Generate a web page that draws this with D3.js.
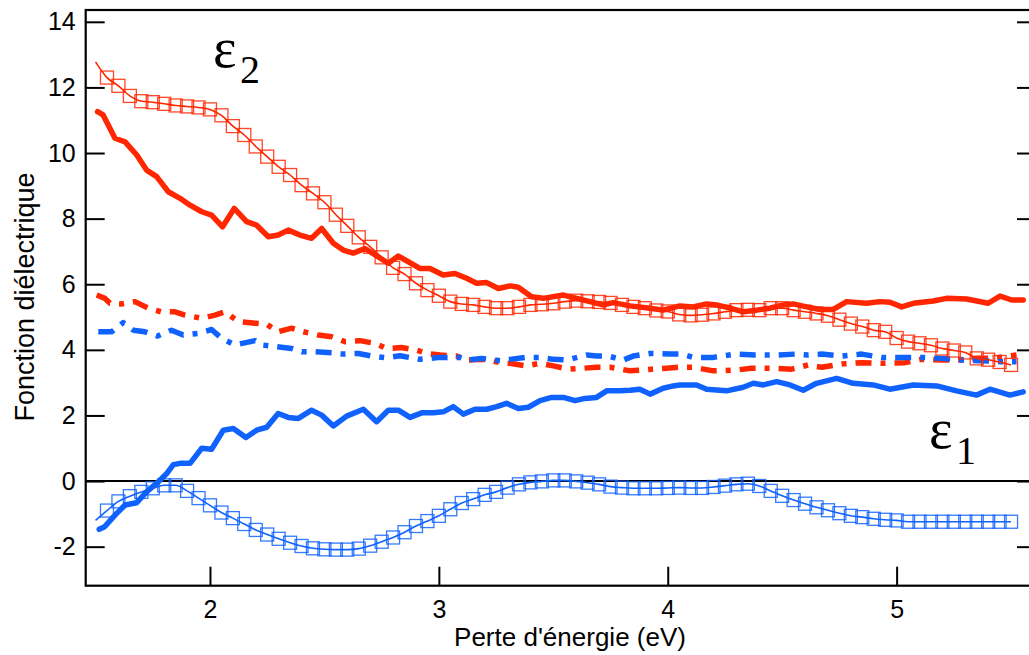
<!DOCTYPE html>
<html><head><meta charset="utf-8">
<script src="https://cdn.jsdelivr.net/npm/d3@7"></script>
<style>body{margin:0;background:#fff}svg{display:block}</style>
</head><body>
<svg id="chart" width="1029" height="655"></svg>
<script>
// ---- data ----
const xTicks = [2, 3, 4, 5];
const yTicks = [-2, 0, 2, 4, 6, 8, 10, 12, 14];
const xTitle = "Perte d'énergie (eV)";
const yTitle = "Fonction diélectrique";

// eps2 experimental (thick solid red)
const e2ExpE = [1.509,1.533,1.585,1.629,1.68,1.723,1.767,1.818,1.869,1.913,1.964,2.007,2.055,2.106,2.16,2.204,2.255,2.298,2.342,2.393,2.444,2.488,2.539,2.582,2.626,2.677,2.779,2.823,2.917,2.961,3.019,3.07,3.121,3.165,3.209,3.26,3.311,3.347,3.405,3.456,3.544,3.602,3.66,3.718,3.762,3.835,3.923,3.98,4.053,4.111,4.17,4.213,4.272,4.33,4.388,4.446,4.504,4.548,4.607,4.665,4.723,4.782,4.869,4.927,4.971,5.022,5.073,5.16,5.218,5.306,5.40,5.452,5.503,5.553];
const e2ExpV = [11.26,11.16,10.45,10.34,9.94,9.48,9.28,8.82,8.62,8.41,8.21,8.11,7.75,8.31,7.91,7.80,7.45,7.50,7.65,7.50,7.40,7.70,7.25,7.04,6.95,7.09,6.64,6.86,6.48,6.48,6.28,6.33,6.18,6.03,6.05,5.87,5.95,5.91,5.62,5.57,5.67,5.57,5.47,5.37,5.44,5.34,5.27,5.21,5.34,5.31,5.40,5.37,5.27,5.16,5.21,5.27,5.37,5.40,5.31,5.23,5.23,5.47,5.42,5.47,5.45,5.31,5.42,5.49,5.57,5.55,5.42,5.64,5.52,5.52];

// model curves (thin line + squares), energies 1.50..5.50
const modelE = [1.50,1.55,1.60,1.65,1.70,1.75,1.80,1.85,1.90,1.95,2.00,2.05,2.10,2.15,2.20,2.25,2.30,2.35,2.40,2.45,2.50,2.55,2.60,2.65,2.70,2.75,2.80,2.85,2.90,2.95,3.00,3.05,3.10,3.15,3.20,3.25,3.30,3.35,3.40,3.45,3.50,3.55,3.60,3.65,3.70,3.75,3.80,3.85,3.90,3.95,4.00,4.05,4.10,4.15,4.20,4.25,4.30,4.35,4.40,4.45,4.50,4.55,4.60,4.65,4.70,4.75,4.80,4.85,4.90,4.95,5.00,5.05,5.10,5.15,5.20,5.25,5.30,5.35,5.40,5.45,5.50];
const e2ModelV = [12.78,12.30,12.05,11.74,11.58,11.55,11.50,11.45,11.42,11.39,11.33,11.15,10.82,10.55,10.20,9.89,9.58,9.33,9.02,8.77,8.50,8.12,7.78,7.43,7.14,6.82,6.50,6.31,6.03,5.82,5.65,5.47,5.40,5.37,5.31,5.27,5.27,5.31,5.37,5.39,5.42,5.47,5.50,5.48,5.46,5.43,5.37,5.31,5.27,5.20,5.17,5.08,5.05,5.07,5.11,5.16,5.21,5.22,5.21,5.27,5.27,5.21,5.16,5.11,5.04,4.92,4.80,4.71,4.60,4.55,4.36,4.25,4.20,4.14,4.04,3.98,3.92,3.74,3.70,3.63,3.54];
const e1ModelV = [-1.20,-0.90,-0.62,-0.46,-0.33,-0.22,-0.13,-0.13,-0.30,-0.52,-0.74,-0.96,-1.13,-1.31,-1.49,-1.63,-1.76,-1.88,-1.98,-2.05,-2.08,-2.09,-2.09,-2.06,-1.97,-1.85,-1.72,-1.56,-1.37,-1.22,-1.06,-0.86,-0.67,-0.55,-0.42,-0.33,-0.20,-0.10,-0.04,-0.01,0.02,0.02,-0.01,-0.05,-0.10,-0.17,-0.20,-0.22,-0.22,-0.22,-0.21,-0.20,-0.21,-0.21,-0.18,-0.14,-0.10,-0.08,-0.15,-0.30,-0.45,-0.58,-0.69,-0.80,-0.89,-0.98,-1.06,-1.10,-1.15,-1.18,-1.20,-1.24,-1.24,-1.24,-1.24,-1.24,-1.24,-1.24,-1.24,-1.24,-1.24];

// red dash-dot
const e2DashE = [1.505,1.541,1.563,1.611,1.672,1.731,1.786,1.847,1.891,1.964,2.022,2.066,2.124,2.197,2.248,2.296,2.357,2.408,2.473,2.532,2.59,2.655,2.72,2.772,2.837,2.903,2.947,3.005,3.078,3.121,3.194,3.267,3.311,3.381,3.442,3.5,3.565,3.631,3.689,3.748,3.835,3.93,3.995,4.053,4.111,4.199,4.294,4.366,4.454,4.541,4.614,4.672,4.76,4.847,4.934,5.036,5.109,5.196,5.269,5.342,5.415,5.487,5.524];
const e2DashV = [5.67,5.57,5.42,5.40,5.47,5.27,5.16,5.16,5.06,4.96,5.06,5.16,4.86,4.81,4.78,4.55,4.66,4.55,4.45,4.40,4.25,4.28,4.20,4.04,4.07,3.99,3.89,3.84,3.81,3.69,3.71,3.61,3.59,3.51,3.59,3.51,3.41,3.44,3.47,3.47,3.36,3.41,3.44,3.47,3.47,3.36,3.38,3.44,3.44,3.41,3.54,3.47,3.57,3.61,3.59,3.61,3.71,3.69,3.69,3.74,3.74,3.81,3.84];

// blue dash-dot
const e1DashE = [1.512,1.57,1.621,1.665,1.716,1.771,1.832,1.883,1.949,2.007,2.051,2.109,2.197,2.226,2.284,2.357,2.401,2.459,2.532,2.582,2.648,2.706,2.765,2.83,2.917,3.005,3.092,3.128,3.187,3.267,3.311,3.376,3.442,3.5,3.558,3.646,3.689,3.74,3.806,3.849,3.922,4.01,4.06,4.111,4.199,4.294,4.381,4.469,4.556,4.614,4.672,4.76,4.847,4.934,5.022,5.109,5.196,5.284,5.371,5.459,5.524];
const e1DashV = [4.55,4.55,4.83,4.60,4.55,4.42,4.60,4.45,4.50,4.62,4.35,4.15,4.28,4.15,4.10,4.04,3.94,3.94,3.91,3.87,3.89,3.81,3.76,3.82,3.71,3.77,3.77,3.69,3.74,3.67,3.71,3.77,3.77,3.71,3.69,3.84,3.81,3.81,3.69,3.81,3.89,3.87,3.87,3.77,3.77,3.87,3.84,3.84,3.87,3.84,3.87,3.81,3.87,3.77,3.77,3.77,3.74,3.69,3.67,3.64,3.64];

// eps1 experimental (thick solid blue)
const e1ExpE = [1.516,1.54,1.585,1.629,1.68,1.723,1.77,1.81,1.84,1.869,1.913,1.964,2.007,2.058,2.102,2.157,2.204,2.248,2.298,2.342,2.386,2.444,2.488,2.539,2.597,2.67,2.728,2.779,2.823,2.874,2.925,2.976,3.019,3.063,3.107,3.158,3.209,3.253,3.296,3.347,3.391,3.442,3.493,3.544,3.595,3.638,3.689,3.733,3.791,3.835,3.878,3.923,3.98,4.024,4.053,4.126,4.17,4.257,4.33,4.374,4.417,4.476,4.534,4.592,4.65,4.738,4.81,4.898,4.97,5.073,5.175,5.262,5.349,5.408,5.495,5.553];
const e1ExpV = [-1.47,-1.39,-1.04,-0.73,-0.66,-0.33,-0.05,0.22,0.50,0.54,0.54,1.00,0.97,1.55,1.60,1.33,1.55,1.64,2.06,1.94,1.91,2.16,2.01,1.68,1.98,2.19,1.81,2.16,2.16,1.94,2.08,2.08,2.11,2.27,2.04,2.19,2.19,2.27,2.37,2.21,2.25,2.45,2.55,2.55,2.45,2.52,2.55,2.75,2.75,2.77,2.80,2.65,2.83,2.90,2.93,2.93,2.80,2.75,2.86,2.98,2.93,3.03,2.93,2.77,2.98,3.13,2.98,2.93,2.80,2.93,2.90,2.75,2.62,2.80,2.62,2.72];

// ---- drawing ----
const RED = "#ff2600", BLUE = "#1062ff";
const svg = d3.select("#chart");
const L = 85.7, R = 1036, T = 10, B = 585.7;
const x = d3.scaleLinear().domain([1.457, 5.609]).range([L, R]);
const y = d3.scaleLinear().domain([-3.19, 14.36]).range([B, T]);

const zip = (es, vs) => es.map((e, i) => [e, vs[i]]);
const line = d3.line().x(d => x(d[0])).y(d => y(d[1]));
const smooth = d3.line().x(d => x(d[0])).y(d => y(d[1])).curve(d3.curveMonotoneX);

const font = "'Liberation Sans', Arial, Helvetica, sans-serif";
const fmt = d => String(d);

// axes
const gl = svg.append("g").attr("transform", `translate(${L},0)`)
  .call(d3.axisLeft(y).tickValues(yTicks).tickSize(-19).tickSizeOuter(0).tickPadding(10).tickFormat(fmt));
const gr = svg.append("g").attr("transform", `translate(${R},0)`)
  .call(d3.axisRight(y).tickValues(yTicks).tickSize(-19).tickSizeOuter(0).tickFormat(""));
const gb = svg.append("g").attr("transform", `translate(0,${B})`)
  .call(d3.axisBottom(x).tickValues(xTicks).tickSize(-19).tickSizeOuter(0).tickPadding(15).tickFormat(fmt));
[gl, gr, gb].forEach(g => {
  g.select(".domain").remove();
  g.selectAll(".tick line").attr("stroke", "#000").attr("stroke-width", 2);
  g.selectAll(".tick text").attr("fill", "#000").style("font-family", font).style("font-size", "25px");
});

// frame
svg.append("rect").attr("x", L).attr("y", T).attr("width", R - L).attr("height", B - T)
  .attr("fill", "none").attr("stroke", "#000").attr("stroke-width", 2.2);
// zero line
svg.append("line").attr("x1", L).attr("x2", R).attr("y1", y(0)).attr("y2", y(0))
  .attr("stroke", "#000").attr("stroke-width", 2);

// series
const plot = svg.append("g");
function thick(es, vs, color, dash) {
  const p = plot.append("path").datum(zip(es, vs)).attr("d", line)
    .attr("fill", "none").attr("stroke", color).attr("stroke-width", 5.5)
    .attr("stroke-linejoin", "round");
  if (dash) p.attr("stroke-dasharray", dash).attr("stroke-linecap", "butt");
  else p.attr("stroke-linecap", "round");
}
function model(vs, color) {
  const data = zip(modelE, vs);
  plot.append("path").datum(data).attr("d", smooth)
    .attr("fill", "none").attr("stroke", color).attr("stroke-width", 1.6);
  plot.append("g").selectAll("rect").data(data.slice(1)).join("rect")
    .attr("x", d => x(d[0]) - 6.5).attr("y", d => y(d[1]) - 6.5)
    .attr("width", 13).attr("height", 13)
    .attr("fill", "none").attr("stroke", color).attr("stroke-width", 1.3).attr("stroke-opacity", 0.85);
}
thick(e2DashE, e2DashV, RED, "16,9,5,9");
thick(e1DashE, e1DashV, BLUE, "16,9,5,9");
thick(e1ExpE, e1ExpV, BLUE);
thick(e2ExpE, e2ExpV, RED);
model(e2ModelV, RED);
model(e1ModelV, BLUE);

// titles
svg.append("text").attr("x", 570).attr("y", 646).attr("text-anchor", "middle")
  .style("font-family", font).style("font-size", "26px").text(xTitle);
svg.append("text").attr("transform", "translate(34,297) rotate(-90)").attr("text-anchor", "middle")
  .style("font-family", font).style("font-size", "27px").text(yTitle);

// epsilon labels
const serif = "'Liberation Serif', 'Times New Roman', serif";
function eps(xp, yp, sub) {
  svg.append("text").attr("x", xp).attr("y", yp).style("font-family", serif).style("font-size", "56px").text("ε");
  svg.append("text").attr("x", xp + 27).attr("y", yp + 16).style("font-family", serif).style("font-size", "40px").text(sub);
}
eps(213, 67, "2");
eps(929, 448, "1");
</script>
</body></html>
